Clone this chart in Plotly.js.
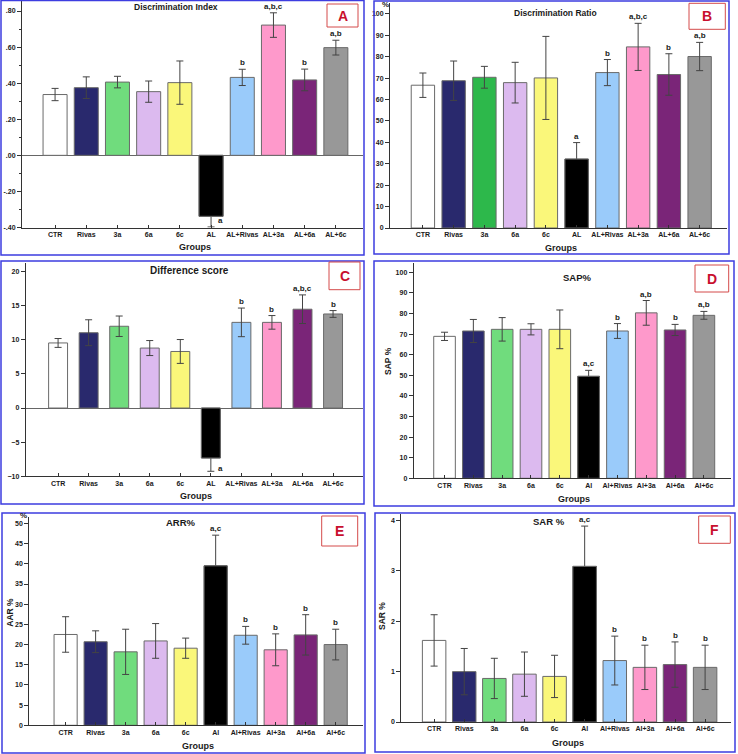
<!DOCTYPE html>
<html>
<head>
<meta charset="utf-8">
<script src="https://cdn.plot.ly/plotly-3.0.1.min.js"></script>
<style>
  html, body { margin: 0; padding: 0; background: #ffffff; }
  #chart { width: 738px; height: 754px; }
</style>
</head>
<body>
<div id="chart"></div>
<script>
// Group labels (panels A-C spell "AL", panels D-F spell "Al")
const groupsAL = ["CTR", "Rivas", "3a", "6a", "6c", "AL", "AL+Rivas", "AL+3a", "AL+6a", "AL+6c"];
const groupsAl = ["CTR", "Rivas", "3a", "6a", "6c", "Al", "Al+Rivas", "Al+3a", "Al+6a", "Al+6c"];

// Bar fill colours per group
const barColors  = ["#ffffff", "#29296d", "#70dc7d", "#dcbaef", "#faf77a", "#000000", "#9acbfa", "#fe99cb", "#7a2578", "#989898"];
const barColorsB = ["#ffffff", "#29296d", "#2db84b", "#dcbaef", "#faf77a", "#000000", "#9acbfa", "#fe99cb", "#7a2578", "#989898"];

// A: Discrimination Index (mean, error)
const discIndex    = [0.337, 0.375, 0.406, 0.353, 0.403, -0.338, 0.432, 0.722, 0.418, 0.597];
const discIndexErr = [0.034, 0.060, 0.032, 0.059, 0.120, 0.059, 0.045, 0.068, 0.060, 0.041];
const discIndexSig = ["", "", "", "", "", "a", "b", "a,b,c", "b", "a,b"];
const discIndexTickVals = [-0.4, -0.2, 0, 0.2, 0.4, 0.6, 0.8];
const discIndexTickText = ["-.40", "-.20", ".00", ".20", ".40", ".60", ".80"];

// B: Discrimination Ratio (%)
const discRatio    = [66.7, 68.8, 70.4, 67.9, 70.1, 32.2, 72.6, 84.6, 71.7, 80.1];
const discRatioErr = [5.7, 9.2, 5.1, 9.5, 19.4, 7.7, 6.1, 11.0, 9.7, 6.6];
const discRatioSig = ["", "", "", "", "", "a", "b", "a,b,c", "b", "a,b"];

// C: Difference score
const diffScore    = [9.55, 11.05, 12.0, 8.8, 8.3, -7.33, 12.57, 12.57, 14.5, 13.8];
const diffScoreErr = [0.65, 1.9, 1.5, 1.1, 1.75, 1.95, 2.1, 1.0, 2.1, 0.5];
const diffScoreSig = ["", "", "", "", "", "a", "b", "b", "a,b,c", "b"];

// D: SAP%
const sap    = [68.9, 71.5, 72.3, 72.3, 72.3, 49.5, 71.5, 80.3, 72.0, 79.1];
const sapErr = [2.0, 5.6, 5.7, 2.7, 9.4, 2.9, 3.6, 6.0, 2.7, 1.9];
const sapSig = ["", "", "", "", "", "a,c", "b", "a,b", "b", "a,b"];

// E: ARR%
const arr    = [22.5, 20.7, 18.2, 20.9, 19.1, 39.5, 22.3, 18.7, 22.4, 20.0];
const arrErr = [4.4, 2.7, 5.6, 4.3, 2.5, 7.6, 2.2, 3.95, 5.0, 3.8];
const arrSig = ["", "", "", "", "", "a,c", "b", "b", "b", "b"];

// F: SAR%
const sar    = [1.62, 1.00, 0.865, 0.95, 0.905, 3.09, 1.22, 1.085, 1.14, 1.085];
const sarErr = [0.51, 0.46, 0.40, 0.44, 0.42, 0.80, 0.485, 0.44, 0.45, 0.44];
const sarSig = ["", "", "", "", "", "a,c", "b", "b", "b", "b"];

const W = 738, H = 754;
const px = x => x / W;
const py = y => 1 - y / H;
const FONT = "Liberation Sans, Arial, Helvetica, sans-serif";
const ALI = 5; // index of the AL group

const panels = [
  { letter: "A", cats: groupsAL, vals: discIndex, errs: discIndexErr, sig: discIndexSig, colors: barColors,
    title: "Discrimination Index", tsize: 8.5, tx: 176, ty: 7,
    box: [1, 0.5, 364, 255], plot: [22, 363, 0, 227.5], xr: [-1.06, 9.87], yr: [-0.4, 0.861],
    tickvals: discIndexTickVals, ticktext: discIndexTickText, minor: 0.1, zero: true,
    gy: 247, lbox: [327, 4, 358, 27], barw: 0.77, negShift: [5, 6] },
  { letter: "B", cats: groupsAL, vals: discRatio, errs: discRatioErr, sig: discRatioSig, colors: barColorsB,
    title: "Discrimination Ratio", tsize: 8.5, tx: 555.5, ty: 13.3,
    box: [374, 1, 729, 254], plot: [390, 727, 3, 228], xr: [-1.07, 9.89], yr: [0, 105.1],
    dtick: 10, gy: 248, lbox: [689, 3.3, 725.3, 29.3], barw: 0.76, pct: [385, 5] },
  { letter: "C", cats: groupsAL, vals: diffScore, errs: diffScoreErr, sig: diffScoreSig, colors: barColors,
    title: "Difference score", tsize: 10, tx: 189, ty: 270.3,
    box: [1, 261, 364, 504], plot: [25.7, 363, 263, 476.2], xr: [-1.06, 9.98], yr: [-10, 21.28],
    dtick: 5, zero: true, gy: 495.7, lbox: [329, 262, 360, 289.7], barw: 0.62, negShift: [5, 3] },
  { letter: "D", cats: groupsAl, vals: sap, errs: sapErr, sig: sapSig, colors: barColors,
    title: "SAP%", tsize: 9.5, tx: 577, ty: 277,
    box: [374, 261, 734, 506], plot: [413.7, 730.7, 263, 478.3], xr: [-1.07, 9.93], yr: [0, 104.5],
    dtick: 10, gy: 498.7, lbox: [695, 265, 728.7, 292], barw: 0.75, ytitle: ["SAP %", 388, 361] },
  { letter: "E", cats: groupsAl, vals: arr, errs: arrErr, sig: arrSig, colors: barColors,
    title: "ARR%", tsize: 9.5, tx: 180.7, ty: 522.7,
    box: [2, 513, 365, 753], plot: [29.3, 362.7, 517, 725.3], xr: [-1.21, 9.9], yr: [0, 51.6],
    dtick: 5, gy: 746, lbox: [321.7, 516, 357.7, 546], barw: 0.77, ytitle: ["AAR %", 10, 612.7], pct: [23, 515] },
  { letter: "F", cats: groupsAl, vals: sar, errs: sarErr, sig: sarSig, colors: barColors,
    title: "SAR %", tsize: 9.5, tx: 549, ty: 521.7,
    box: [375, 513, 735, 752], plot: [401.3, 731.3, 514, 722], xr: [-1.09, 9.87], yr: [0, 4.13],
    dtick: 1, gy: 743.3, lbox: [698.7, 516, 730.3, 543.3], barw: 0.78, ytitle: ["SAR %", 382, 616] }
];

const traces = [];
const layout = {
  width: W, height: H,
  margin: { l: 0, r: 0, t: 0, b: 0 },
  paper_bgcolor: "#ffffff", plot_bgcolor: "rgba(0,0,0,0)",
  showlegend: false,
  barmode: "overlay",
  font: { family: FONT, color: "#1a1a1a" },
  shapes: [], annotations: []
};

panels.forEach((p, i) => {
  const n = i + 1;
  const xa = "x" + (n === 1 ? "" : n), ya = "y" + (n === 1 ? "" : n);
  const xKey = "xaxis" + (n === 1 ? "" : n), yKey = "yaxis" + (n === 1 ? "" : n);

  // all bars with error bars
  traces.push({
    type: "bar", x: p.cats, y: p.vals, xaxis: xa, yaxis: ya, width: p.barw,
    marker: { color: p.colors, opacity: 1, line: { color: "#6a6a6a", width: 1 } },
    error_y: { type: "data", array: p.errs, visible: true, color: "#444444", thickness: 1, width: 3.5 },
    hoverinfo: "skip"
  });
  // solid AL bar drawn again on top so its error whisker only shows outside the bar
  traces.push({
    type: "bar", x: [p.cats[ALI]], y: [p.vals[ALI]], xaxis: xa, yaxis: ya, width: p.barw,
    marker: { color: p.colors[ALI], opacity: 1, line: { color: "#6a6a6a", width: 1 } },
    hoverinfo: "skip"
  });

  layout[xKey] = {
    domain: [px(p.plot[0]), px(p.plot[1])], anchor: ya,
    type: "category", range: p.xr, fixedrange: true,
    showline: true, linecolor: "#333333", linewidth: 1, mirror: false,
    ticks: "inside", ticklen: 3, tickcolor: "#333333",
    tickfont: { family: FONT, size: 7, weight: "bold", color: "#1a1a1a" },
    showgrid: false, zeroline: false
  };
  const yax = {
    domain: [py(p.plot[3]), py(p.plot[2])], anchor: xa,
    range: p.yr, fixedrange: true,
    showline: true, linecolor: "#333333", linewidth: 1,
    ticks: "outside", ticklen: 4, tickcolor: "#333333",
    tickfont: { family: FONT, size: 7, weight: "bold", color: "#1a1a1a" },
    showgrid: false,
    zeroline: !!p.zero, zerolinecolor: "#666666", zerolinewidth: 1
  };
  if (p.tickvals) {
    yax.tickmode = "array"; yax.tickvals = p.tickvals; yax.ticktext = p.ticktext;
  } else {
    yax.tickmode = "linear"; yax.tick0 = 0; yax.dtick = p.dtick;
  }
  if (p.minor) {
    yax.minor = { tickmode: "linear", tick0: 0, dtick: p.minor, ticks: "outside", ticklen: 2, tickcolor: "#333333", showgrid: false };
  }
  layout[yKey] = yax;

  // panel frame
  layout.shapes.push({ type: "rect", xref: "paper", yref: "paper",
    x0: px(p.box[0]), x1: px(p.box[2]), y0: py(p.box[3]), y1: py(p.box[1]),
    line: { color: "#3d3de0", width: 1.5 }, fillcolor: "rgba(0,0,0,0)" });
  // panel letter box
  layout.shapes.push({ type: "rect", xref: "paper", yref: "paper",
    x0: px(p.lbox[0]), x1: px(p.lbox[2]), y0: py(p.lbox[3]), y1: py(p.lbox[1]),
    line: { color: "#d44a4a", width: 1 }, fillcolor: "#ffffff" });
  layout.annotations.push({ xref: "paper", yref: "paper",
    x: px((p.lbox[0] + p.lbox[2]) / 2), y: py((p.lbox[1] + p.lbox[3]) / 2),
    text: p.letter, showarrow: false, xanchor: "center", yanchor: "middle",
    font: { family: FONT, size: 14, weight: "bold", color: "#c8102e" } });

  // panel title
  layout.annotations.push({ xref: "paper", yref: "paper", x: px(p.tx), y: py(p.ty),
    text: p.title, showarrow: false, xanchor: "center", yanchor: "middle",
    font: { family: FONT, size: p.tsize, weight: "bold", color: "#1a1a1a" } });
  // x axis title
  layout.annotations.push({ xref: "paper", yref: "paper", x: px((p.plot[0] + p.plot[1]) / 2 + 2), y: py(p.gy),
    text: "Groups", showarrow: false, xanchor: "center", yanchor: "middle",
    font: { family: FONT, size: 9, weight: "bold", color: "#1a1a1a" } });
  // y axis title
  if (p.ytitle) {
    layout.annotations.push({ xref: "paper", yref: "paper", x: px(p.ytitle[1]), y: py(p.ytitle[2]),
      text: p.ytitle[0], textangle: -90, showarrow: false, xanchor: "center", yanchor: "middle",
      font: { family: FONT, size: 8.5, weight: "bold", color: "#1a1a1a" } });
  }
  if (p.pct) {
    layout.annotations.push({ xref: "paper", yref: "paper", x: px(p.pct[0]), y: py(p.pct[1]),
      text: "%", showarrow: false, xanchor: "center", yanchor: "middle",
      font: { family: FONT, size: 8, weight: "bold", color: "#1a1a1a" } });
  }

  // significance letters
  p.sig.forEach((s, k) => {
    if (!s) return;
    const v = p.vals[k], e = p.errs[k];
    if (v >= 0) {
      layout.annotations.push({ xref: xa, yref: ya, x: p.cats[k], y: v + e,
        text: s, showarrow: false, xanchor: "center", yanchor: "bottom", yshift: 0,
        font: { family: FONT, size: 8, weight: "bold", color: "#1a1a1a" } });
    } else {
      layout.annotations.push({ xref: xa, yref: ya, x: p.cats[k], y: v - e,
        text: s, showarrow: false, xanchor: "left", yanchor: "middle",
        xshift: p.negShift[0], yshift: p.negShift[1],
        font: { family: FONT, size: 8, weight: "bold", color: "#1a1a1a" } });
    }
  });
});

Plotly.newPlot("chart", traces, layout, { staticPlot: true, displayModeBar: false });
</script>
</body>
</html>
